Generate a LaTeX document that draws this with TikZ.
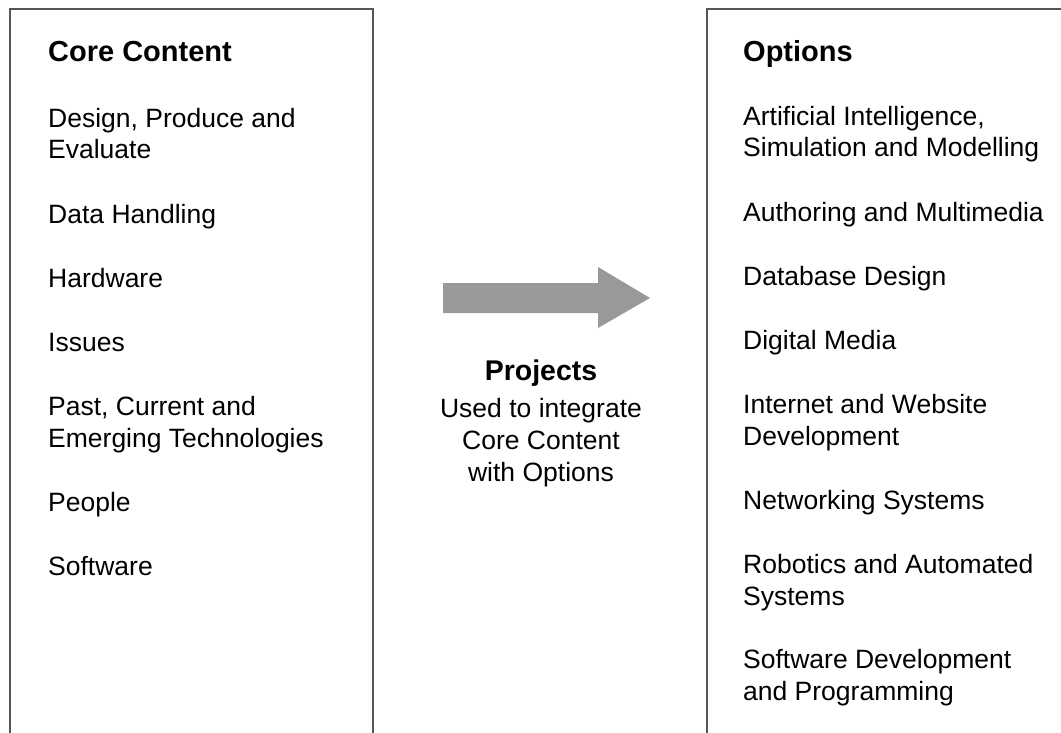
\documentclass[tikz,border=0pt]{standalone}
\usepackage{fontspec}
\setmainfont{Liberation Sans}
\definecolor{boxline}{RGB}{85,85,85}
\definecolor{arrowgray}{RGB}{153,153,153}
\tikzset{
  item/.style={anchor=base west, inner sep=0pt, align=left, font=\fontsize{26.5}{31.5}\selectfont},
  head/.style={anchor=base west, inner sep=0pt, font=\fontsize{29}{34}\selectfont\bfseries},
  mid/.style={anchor=base, inner sep=0pt, align=center, font=\fontsize{26.5}{32}\selectfont},
  frame/.style={draw=boxline, line width=1.5pt}
}
\begin{document}
\begin{tikzpicture}[x=1pt,y=-1pt]
\useasboundingbox (0,0) rectangle (1061,733);
% boxes
\draw[frame] (10,733) -- (10,9) -- (373,9) -- (373,733);
\draw[frame] (707,733) -- (707,9) -- (1061,9);
% arrow
\fill[arrowgray] (443,283) -- (598,283) -- (598,267) -- (650,298) -- (598,328) -- (598,313) -- (443,313) -- cycle;
% left column (multi-line nodes: base = last line)
\node[head] (core) at (48,62) {Core Content};
\node[item] (l1) at (48,159) {Design, Produce and\\Evaluate};
\node[item] (l2) at (48,223) {Data Handling};
\node[item] (l3) at (48,287) {Hardware};
\node[item] (l4) at (48,351) {Issues};
\node[item] (l5) at (48,447) {Past, Current and\\Emerging Technologies};
\node[item] (l6) at (48,511) {People};
\node[item] (l7) at (48,575) {Software};
% right column
\node[head] (opt) at (743,62) {Options};
\node[item] (r1) at (743,157) {Artificial Intelligence,\\Simulation and Modelling};
\node[item] (r2) at (743,222) {Authoring and Multimedia};
\node[item] (r3) at (743,285) {Database Design};
\node[item] (r4) at (743,349) {Digital Media};
\node[item] (r5) at (743,445) {Internet and Website\\Development};
\node[item] (r6) at (743,509) {Networking Systems};
\node[item] (r7) at (743,605) {Robotics and Automated\\Systems};
\node[item] (r8) at (743,700) {Software Development\\and Programming};
% middle
\node[anchor=base, inner sep=0pt, font=\fontsize{28.5}{34}\selectfont\bfseries] (proj) at (541,380) {Projects};
\node[mid] (desc) at (541,481) {Used to integrate\\Core Content\\with Options};
\end{tikzpicture}
\end{document}
